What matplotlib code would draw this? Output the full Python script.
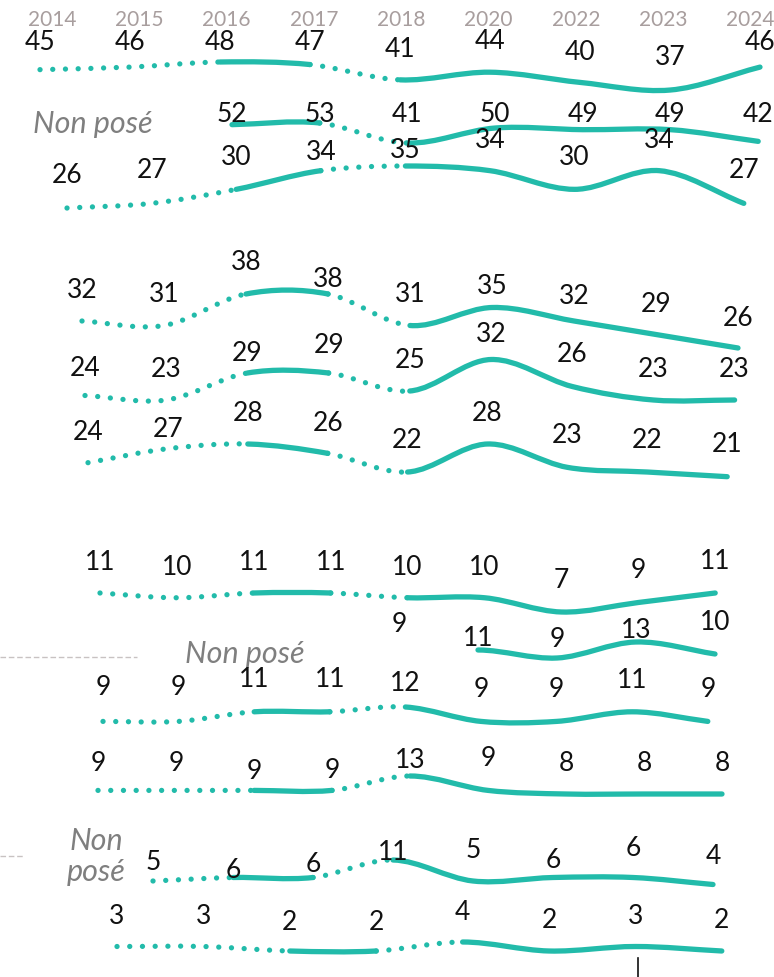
import numpy as np
import matplotlib
matplotlib.use('Agg')
import matplotlib.pyplot as plt
from matplotlib.path import Path
from matplotlib.patches import PathPatch

plt.rcParams['font.family'] = ['Lato', 'DejaVu Sans']

W, H = 774, 977
TEAL = '#22bbaa'

years = ['2014', '2015', '2016', '2017', '2018', '2020', '2022', '2023', '2024']

# one list per row, None = not asked / no value
r01 = [45, 46, 48, 47, 41, 44, 40, 37, 46]
r02 = [None, None, 52, 53, 41, 50, 49, 49, 42]
r03 = [26, 27, 30, 34, 35, 34, 30, 34, 27]
r04 = [32, 31, 38, 38, 31, 35, 32, 29, 26]
r05 = [24, 23, 29, 29, 25, 32, 26, 23, 23]
r06 = [24, 27, 28, 26, 22, 28, 23, 22, 21]
r07 = [11, 10, 11, 11, 10, 10, 7, 9, 11]
r08 = [None, None, None, None, 9, 11, 9, 13, 10]
r09 = [9, 9, 11, 11, 12, 9, 9, 11, 9]
r10 = [9, 9, 9, 9, 13, 9, 8, 8, 8]
r11 = [None, 5, 6, 6, 11, 5, 6, 6, 4]
r12 = [3, 3, 2, 2, 4, 2, 3, 2, None]
series = [r01, r02, r03, r04, r05, r06, r07, r08, r09, r10, r11, r12]

# style of the line between column i and i+1
gap_style = ['dot', 'dot', 'solid', 'dot', 'solid', 'solid', 'solid', 'solid']

# row placement (pixels): x of first column, column step, ref value, its y, px per point
place = [
    (40, 90.0, 48, 62, 2.55),
    (56.6, 87.7, 53, 123, 1.67),
    (67, 84.6, 35, 166, 4.67),
    (82, 82.0, 38, 294, 4.5),
    (85, 81.2, 29, 373, 4.5),
    (88, 79.9, 28, 444, 4.67),
    (100, 76.9, 11, 593, 4.75),
    (83, 79.0, 13, 642, 4.0),
    (103, 75.6, 12, 707, 4.8),
    (98, 78.0, 13, 776, 3.6),
    (73, 80.0, 11, 860, 3.5),
    (117, 86.4, 4, 942, 4.5),
]

# how far (px) each value label sits above its point
lab_dy = [
    [30, 27, 22, 25, 33, 33, 32, 35, 27],
    [0, 0, 13, 11, 31, 16, 18, 18, 29],
    [35, 35, 34, 21, 18, 33, 34, 33, 35],
    [33, 33, 34, 17, 34, 23, 27, 33, 32],
    [29, 33, 22, 30, 33, 27, 34, 33, 33],
    [33, 22, 33, 32, 34, 33, 34, 34, 35],
    [33, 33, 33, 33, 33, 33, 34, 35, 34],
    [0, 0, 0, 0, 36, 14, 21, 14, 34],
    [36, 36, 35, 35, 26, 34, 34, 34, 34],
    [29, 29, 21, 22, 18, 34, 33, 33, 33],
    [0, 21, 10, 15, 10, 33, 20, 31, 31],
    [32, 32, 31, 31, 32, 33, 32, 33, 0],
]
skip_gaps = {7: [4]}


def draw_row(ax, vals, dys, skip=()):
    idx = [i for i, v in enumerate(vals) if v is not None]
    pts = np.array([[i, vals[i]] for i in idx], dtype=float)
    n = len(pts)
    tan = np.zeros_like(pts)
    for k in range(n):
        a = pts[max(k - 1, 0)]
        b = pts[min(k + 1, n - 1)]
        tan[k] = (b - a) / (2.0 if 0 < k < n - 1 else 1.0)

    # group consecutive gaps of the same style into one path
    groups = []
    for k in range(n - 1):
        g = idx[k]
        st = None if g in skip else gap_style[g]
        if groups and groups[-1][0] == st and groups[-1][1][-1] == k - 1:
            groups[-1][1].append(k)
        else:
            groups.append((st, [k]))

    for st, ks in groups:
        if st is None:
            continue
        verts = [pts[ks[0]]]
        codes = [Path.MOVETO]
        for k in ks:
            verts += [pts[k] + tan[k] / 3, pts[k + 1] - tan[k + 1] / 3, pts[k + 1]]
            codes += [Path.CURVE4] * 3
        ls = (0, (0.01, 2.4)) if st == 'dot' else '-'
        pp = PathPatch(Path(verts, codes), fill=False, edgecolor=TEAL,
                       lw=3.8, capstyle='round', joinstyle='round', linestyle=ls)
        ax.add_patch(pp)

    for i in idx:
        ax.annotate(str(vals[i]), (i, vals[i]), xytext=(0, dys[i]),
                    textcoords='offset pixels', ha='center', va='center_baseline',
                    fontsize=19, color='#111111', fontweight='normal')


fig = plt.figure(figsize=(W / 100, H / 100), dpi=100)

# overlay in pixel coordinates for headers and notes
ax0 = fig.add_axes([0, 0, 1, 1])
ax0.set_xlim(0, W)
ax0.set_ylim(H, 0)
ax0.axis('off')

for i, y in enumerate(years):
    ax0.text(52 + 87.3 * i, 17.5, y, ha='center', va='center_baseline',
             fontsize=15, color='#a89e9e', fontweight='normal')

note = dict(fontsize=22, color='#7f7f7f', style='italic', fontweight='normal',
            ha='center', va='center_baseline')
ax0.text(93, 121, 'Non posé', **note)
ax0.text(245, 651, 'Non posé', **note)
ax0.text(96, 839, 'Non', **note)
ax0.text(96, 869, 'posé', **note)

ax0.plot([0, 137], [657, 657], color='#c8c2c2', lw=1.0, ls=(0, (4, 2)))
ax0.plot([0, 23], [856, 856], color='#c8c2c2', lw=1.0, ls=(0, (4, 2)))
ax0.plot([638, 638], [958, 977], color='#111111', lw=1.2)

for r, vals in enumerate(series):
    x0, dx, vref, pref, s = place[r]
    ax = fig.add_axes([0, 0, 1, 1])
    ax.patch.set_visible(False)
    ax.axis('off')
    ax.set_xlim(-x0 / dx, (W - x0) / dx)
    ax.set_ylim(vref - (H - pref) / s, vref + pref / s)
    draw_row(ax, vals, lab_dy[r], skip_gaps.get(r, ()))

fig.savefig('out.png', dpi=100)
